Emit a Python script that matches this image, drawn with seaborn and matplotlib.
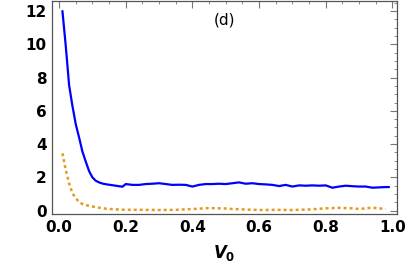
import matplotlib
matplotlib.use("Agg")
import matplotlib.pyplot as plt
import seaborn as sns
from matplotlib.ticker import MultipleLocator

# curve values
v0_blue = [0.01, 0.02, 0.03, 0.04, 0.05, 0.06, 0.07, 0.08, 0.09, 0.10,
           0.11, 0.12, 0.13, 0.14, 0.15, 0.16, 0.17, 0.18, 0.19, 0.20,
           0.22, 0.24, 0.26, 0.28, 0.30, 0.32, 0.34, 0.36, 0.38, 0.40,
           0.42, 0.44, 0.46, 0.48, 0.50, 0.52, 0.54, 0.56, 0.58, 0.60,
           0.62, 0.64, 0.66, 0.68, 0.70, 0.72, 0.74, 0.76, 0.78, 0.80,
           0.82, 0.84, 0.86, 0.88, 0.90, 0.92, 0.94, 0.96, 0.98, 0.99]
blue_vals = [12.0, 9.9, 7.55, 6.3, 5.2, 4.4, 3.55, 2.95, 2.38, 2.0,
             1.8, 1.7, 1.63, 1.59, 1.56, 1.53, 1.5, 1.47, 1.44, 1.6,
             1.55, 1.55, 1.6, 1.62, 1.65, 1.6, 1.55, 1.56, 1.55, 1.45,
             1.55, 1.6, 1.6, 1.62, 1.6, 1.65, 1.7, 1.62, 1.65, 1.6,
             1.58, 1.55, 1.48, 1.55, 1.45, 1.52, 1.5, 1.52, 1.5, 1.52,
             1.38, 1.45, 1.5, 1.47, 1.45, 1.45, 1.38, 1.4, 1.42, 1.42]

v0_orange = [0.01, 0.02, 0.03, 0.04, 0.05, 0.06, 0.07, 0.08, 0.09, 0.10,
             0.12, 0.14, 0.16, 0.18, 0.20, 0.25, 0.30, 0.35, 0.40, 0.42,
             0.44, 0.46, 0.50, 0.52, 0.56, 0.60, 0.65, 0.70, 0.75, 0.80,
             0.84, 0.88, 0.90, 0.94, 0.98]
orange_vals = [3.45, 2.45, 1.65, 1.05, 0.75, 0.52, 0.4, 0.34, 0.29, 0.25,
               0.18, 0.12, 0.09, 0.07, 0.05, 0.05, 0.04, 0.05, 0.1, 0.12,
               0.15, 0.15, 0.13, 0.1, 0.07, 0.04, 0.05, 0.04, 0.07, 0.14,
               0.17, 0.14, 0.1, 0.18, 0.1]

sns.set_style("white")
plt.rcParams["font.family"] = ["DejaVu Sans"]
plt.rcParams["mathtext.fontset"] = "custom"
plt.rcParams["mathtext.it"] = "DejaVu Sans:bold:italic"
plt.rcParams["mathtext.rm"] = "DejaVu Sans:bold"

fig = plt.figure(figsize=(4.07, 2.68), dpi=100)
ax = fig.add_axes([0.128, 0.2015, 0.8475, 0.7945])

sns.lineplot(x=v0_blue, y=blue_vals, ax=ax, color="#0000FF", linewidth=1.6)
sns.lineplot(x=v0_orange, y=orange_vals, ax=ax, color="#E09C24",
             linewidth=1.8, linestyle=(0, (1.2, 1.2)))

ax.set_xlim(-0.021, 1.014)
ax.set_ylim(-0.2, 12.6)
ax.xaxis.set_major_locator(MultipleLocator(0.2))
ax.xaxis.set_minor_locator(MultipleLocator(0.05))
ax.yaxis.set_major_locator(MultipleLocator(2))
ax.yaxis.set_minor_locator(MultipleLocator(0.5))
ax.set_xticks([0, 0.2, 0.4, 0.6, 0.8, 1.0])
ax.set_xticklabels(["0.0", "0.2", "0.4", "0.6", "0.8", "1.0"])

ax.tick_params(which="both", direction="in", top=True, right=True,
               color="#777777")
ax.tick_params(which="major", length=5, width=0.8, labelsize=11, pad=4,
               labelcolor="black")
ax.tick_params(which="minor", length=2.5, width=0.6)
for lab in ax.get_xticklabels() + ax.get_yticklabels():
    lab.set_fontweight("bold")

for side in ["left", "bottom", "top", "right"]:
    ax.spines[side].set_color("#555555")
    ax.spines[side].set_linewidth(0.9)

ax.set_xlabel(r"$V_0$", fontsize=12, labelpad=6, color="black")
ax.text(0.5, 0.91, "(d)", transform=ax.transAxes, ha="center", va="center",
        fontsize=11, color="black")

fig.savefig("out.png", dpi=100)
